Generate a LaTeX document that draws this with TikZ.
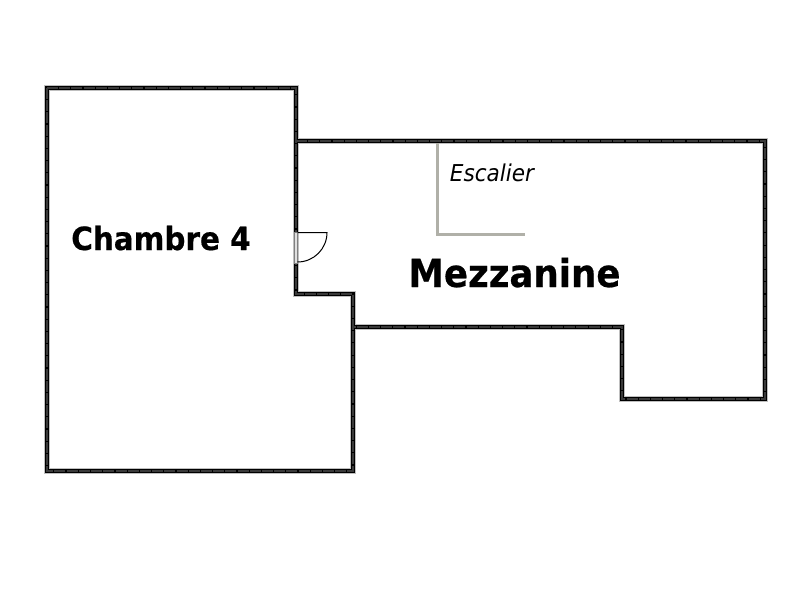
\documentclass[tikz,border=0pt]{standalone}
\usepackage{xcolor}
\usepackage{fontspec}
\setmainfont{DejaVu Sans}
\newfontfamily\planfont[FakeStretch=0.92,FakeBold=0.5]{DejaVu Sans Bold}
\newfontfamily\stairfont[FakeStretch=0.93]{DejaVu Sans Oblique}
\usepackage{tikz}
\definecolor{stairgray}{HTML}{B0B0A8}
\definecolor{wallgray}{HTML}{3A3A3A}

\begin{document}
\begin{tikzpicture}[
    x=0.01cm, y=-0.01cm,
    wallhalo/.style={draw=black!25, line width=0.058cm, line join=miter},
    wall/.style={draw=black, line width=0.046cm, line join=miter},
    wallcore/.style={draw=wallgray, line width=0.016cm, dash pattern=on 0.11cm off 0.012cm},
    stair/.style={draw=stairgray, line width=0.03cm},
    label/.style={text=black, inner sep=0pt}
]
\useasboundingbox (0,0) rectangle (800,600);
\fill[white] (0,0) rectangle (800,600);

% outer walls
\foreach \layer in {wallhalo, wall, wallcore} {
  \path [\layer] (47,88) -- (296,88) -- (296,294) -- (353,294) -- (353,471) -- (47,471) -- cycle;
  \path [\layer] (296,141) -- (765,141) -- (765,399) -- (622,399) -- (622,327) -- (353,327);
}

% stairs
\path [stair] (437,143) -- (437,234) -- (525,234);

% door
\fill [black!12, draw=black!50, line width=0.005cm] (294.5,232) rectangle (297.5,263);
\draw [black, line width=0.01cm] (297.5,232.5) -- (327,232.5) arc (0:90:29.5 and 29.5);

\node [label, font=\planfont\fontsize{9.1pt}{11pt}\selectfont, anchor=base] (chambre) at (161,250) {Chambre 4};
\node [label, font=\planfont\fontsize{11pt}{13pt}\selectfont, anchor=base] (mezzanine) at (514.5,287) {Mezzanine};
\node [label, font=\stairfont\fontsize{6.6pt}{8pt}\selectfont, anchor=base] (escalier) at (492,181) {Escalier};
\end{tikzpicture}
\end{document}
